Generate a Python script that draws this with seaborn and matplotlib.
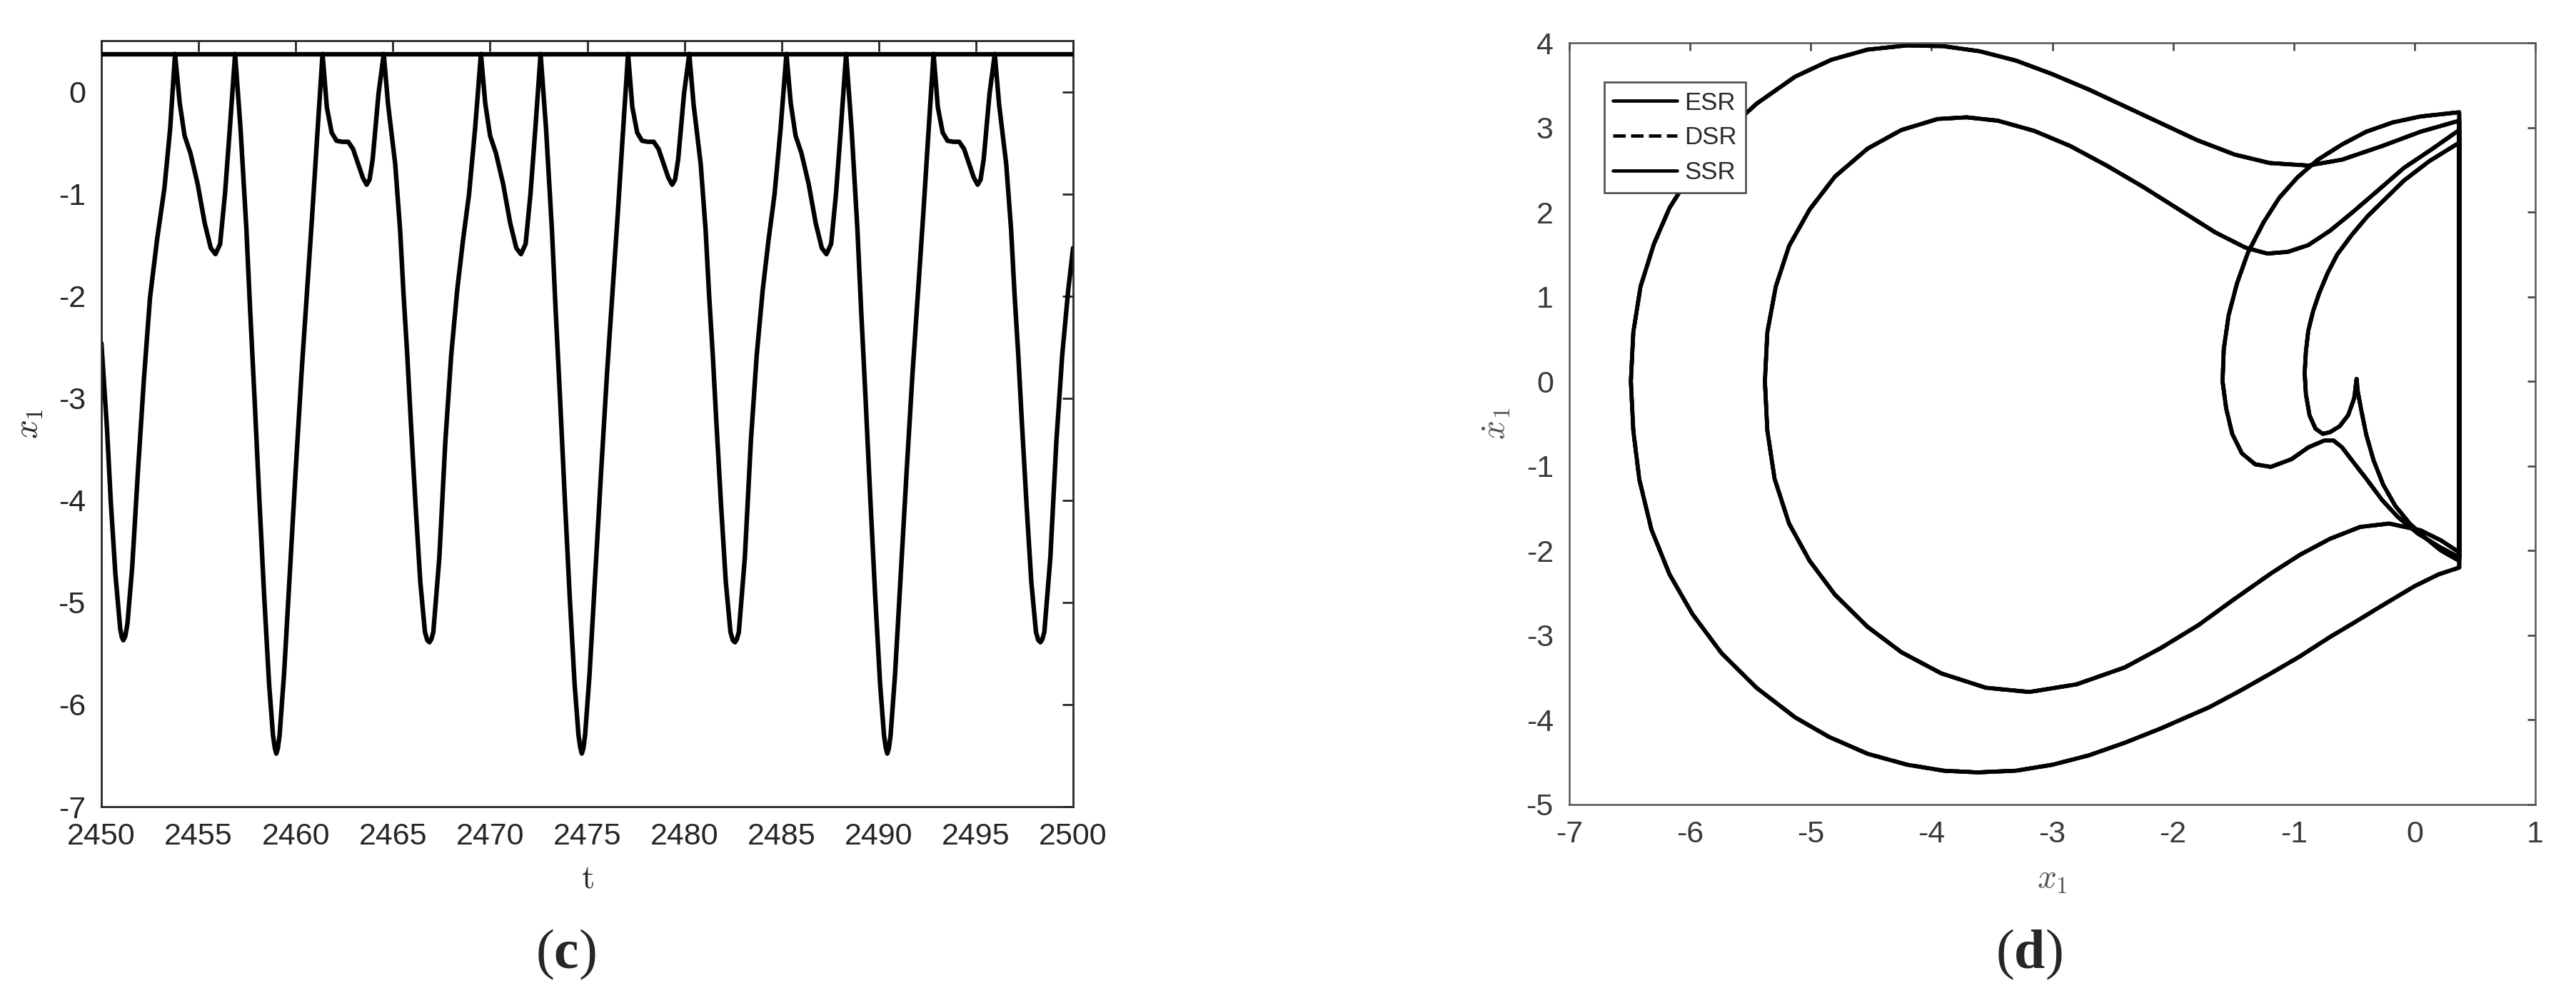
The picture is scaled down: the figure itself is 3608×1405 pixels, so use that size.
import matplotlib
matplotlib.use("Agg")
import matplotlib.pyplot as plt
import seaborn as sns
import pandas as pd

# ---- panel (c): time history of x1 ----
t_vals = [2450.00, 2450.29, 2450.48, 2450.72, 2450.97, 2451.05, 2451.13, 2451.23, 2451.34, 2451.58, 2451.89,
          2452.19, 2452.50, 2452.87, 2453.24, 2453.54, 2453.79,
          # cycle 1
          2454.03, 2454.28, 2454.58, 2454.95, 2455.32, 2455.63, 2455.87, 2456.11, 2456.36, 2456.61, 2456.88,
          2457.16, 2457.46, 2457.65, 2457.88, 2458.13, 2458.38, 2458.63, 2458.83, 2458.92, 2459.00, 2459.08,
          2459.17, 2459.40, 2459.70, 2460.00, 2460.30, 2460.60, 2460.85, 2461.10, 2461.38,
          2461.60, 2461.85, 2462.10, 2462.40, 2462.70, 2462.95, 2463.20, 2463.45, 2463.65, 2463.80, 2463.96,
          2464.26, 2464.53,
          2464.75, 2465.12, 2465.37, 2465.55, 2465.74, 2465.92, 2466.17, 2466.41, 2466.65, 2466.77, 2466.88,
          2466.98, 2467.08, 2467.39, 2467.70, 2468.00, 2468.31, 2468.61, 2468.92, 2469.23, 2469.53,
          # cycle 2
          2469.75, 2470.00, 2470.30, 2470.67, 2471.04, 2471.35, 2471.59, 2471.83, 2472.08, 2472.33, 2472.60,
          2472.88, 2473.18, 2473.37, 2473.60, 2473.85, 2474.10, 2474.35, 2474.55, 2474.64, 2474.72, 2474.80,
          2474.89, 2475.12, 2475.42, 2475.72, 2476.02, 2476.32, 2476.57, 2476.82, 2477.10,
          2477.32, 2477.57, 2477.82, 2478.12, 2478.42, 2478.67, 2478.92, 2479.17, 2479.37, 2479.52, 2479.68,
          2479.98, 2480.25,
          2480.47, 2480.84, 2481.09, 2481.27, 2481.46, 2481.64, 2481.89, 2482.13, 2482.37, 2482.49, 2482.60,
          2482.70, 2482.80, 2483.11, 2483.42, 2483.72, 2484.03, 2484.33, 2484.64, 2484.95, 2485.25,
          # cycle 3
          2485.47, 2485.72, 2486.02, 2486.39, 2486.76, 2487.07, 2487.31, 2487.55, 2487.80, 2488.05, 2488.32,
          2488.60, 2488.90, 2489.09, 2489.32, 2489.57, 2489.82, 2490.07, 2490.27, 2490.36, 2490.44, 2490.52,
          2490.61, 2490.84, 2491.14, 2491.44, 2491.74, 2492.04, 2492.29, 2492.54, 2492.82,
          2493.04, 2493.29, 2493.54, 2493.84, 2494.14, 2494.39, 2494.64, 2494.89, 2495.09, 2495.24, 2495.40,
          2495.70, 2495.97,
          2496.19, 2496.56, 2496.81, 2496.99, 2497.18, 2497.36, 2497.61, 2497.85, 2498.09, 2498.21, 2498.32,
          2498.42, 2498.52, 2498.83, 2499.14, 2499.44, 2499.75, 2500.00]

x1_vals = [-2.46, -3.30, -4.00, -4.72, -5.26, -5.34, -5.37, -5.33, -5.21, -4.67, -3.69,
           -2.81, -2.02, -1.44, -0.95, -0.36, 0.37,
           # cycle 1
           -0.11, -0.43, -0.60, -0.90, -1.29, -1.53, -1.59, -1.49, -1.00, -0.36, 0.37,
           -0.36, -1.34, -2.12, -3.00, -4.00, -4.95, -5.80, -6.30, -6.42, -6.48, -6.43,
           -6.30, -5.70, -4.70, -3.70, -2.75, -1.90, -1.20, -0.45, 0.37,
           -0.15, -0.40, -0.48, -0.49, -0.49, -0.56, -0.70, -0.84, -0.91, -0.86, -0.66,
           -0.02, 0.37,
           -0.12, -0.71, -1.35, -1.99, -2.58, -3.22, -4.06, -4.80, -5.29, -5.37, -5.39,
           -5.36, -5.29, -4.56, -3.42, -2.58, -1.94, -1.45, -1.00, -0.36, 0.37,
           # cycle 2
           -0.11, -0.43, -0.60, -0.90, -1.29, -1.53, -1.59, -1.49, -1.00, -0.36, 0.37,
           -0.36, -1.34, -2.12, -3.00, -4.00, -4.95, -5.80, -6.30, -6.42, -6.48, -6.43,
           -6.30, -5.70, -4.70, -3.70, -2.75, -1.90, -1.20, -0.45, 0.37,
           -0.15, -0.40, -0.48, -0.49, -0.49, -0.56, -0.70, -0.84, -0.91, -0.86, -0.66,
           -0.02, 0.37,
           -0.12, -0.71, -1.35, -1.99, -2.58, -3.22, -4.06, -4.80, -5.29, -5.37, -5.39,
           -5.36, -5.29, -4.56, -3.42, -2.58, -1.94, -1.45, -1.00, -0.36, 0.37,
           # cycle 3
           -0.11, -0.43, -0.60, -0.90, -1.29, -1.53, -1.59, -1.49, -1.00, -0.36, 0.37,
           -0.36, -1.34, -2.12, -3.00, -4.00, -4.95, -5.80, -6.30, -6.42, -6.48, -6.43,
           -6.30, -5.70, -4.70, -3.70, -2.75, -1.90, -1.20, -0.45, 0.37,
           -0.15, -0.40, -0.48, -0.49, -0.49, -0.56, -0.70, -0.84, -0.91, -0.86, -0.66,
           -0.02, 0.37,
           -0.12, -0.71, -1.35, -1.99, -2.58, -3.22, -4.06, -4.80, -5.29, -5.37, -5.39,
           -5.36, -5.29, -4.56, -3.42, -2.58, -1.94, -1.53]

barrier = 0.37
t_ticks = [2450, 2455, 2460, 2465, 2470, 2475, 2480, 2485, 2490, 2495, 2500]
x1_ticks = [-7, -6, -5, -4, -3, -2, -1, 0]

# ---- panel (d): phase portrait, one closed orbit (impacts at x1 = barrier) ----
# small loop reaching x1 = -1.59
loop_dip_x = [0.37, 0.20, 0.03, -0.14, -0.27, -0.40, -0.52, -0.60, -0.67, -0.75, -0.88, -1.02, -1.19,
              -1.32, -1.43, -1.51, -1.56, -1.59, -1.58, -1.54, -1.47, -1.38, -1.25, -1.12, -0.97,
              -0.80, -0.60, -0.40, -0.18, 0.05, 0.37]
loop_dip_v = [-2.08, -1.95, -1.80, -1.60, -1.40, -1.15, -0.93, -0.78, -0.70, -0.70, -0.78, -0.92, -1.01,
              -0.98, -0.85, -0.62, -0.32, 0.00, 0.38, 0.78, 1.16, 1.52, 1.88, 2.17, 2.41,
              2.62, 2.80, 2.95, 3.06, 3.13, 3.18]
# outer loop reaching x1 = -6.49
loop_out_x = [0.37, 0.20, 0.00, -0.27, -0.50, -0.70, -0.95, -1.19, -1.45, -1.70, -2.10, -2.40, -2.70,
              -3.00, -3.30, -3.62, -3.90, -4.20, -4.53, -4.85, -5.13, -5.45, -5.74, -5.98, -6.17,
              -6.32, -6.42, -6.47, -6.49, -6.47, -6.41, -6.30, -6.17, -5.98, -5.74, -5.45, -5.13,
              -4.83, -4.53, -4.20, -3.90, -3.60, -3.30, -3.00, -2.70, -2.40, -2.10, -1.80, -1.49,
              -1.20, -0.88, -0.60, -0.27, 0.05, 0.37]
loop_out_v = [-2.20, -2.28, -2.42, -2.65, -2.85, -3.02, -3.25, -3.45, -3.66, -3.85, -4.10, -4.27, -4.42,
              -4.53, -4.60, -4.62, -4.60, -4.53, -4.40, -4.20, -3.97, -3.62, -3.21, -2.75, -2.28,
              -1.75, -1.16, -0.58, 0.00, 0.58, 1.12, 1.62, 2.05, 2.48, 2.90, 3.28, 3.60,
              3.80, 3.92, 3.97, 3.96, 3.90, 3.79, 3.63, 3.45, 3.25, 3.05, 2.85, 2.68,
              2.58, 2.55, 2.62, 2.78, 2.95, 3.08]
# inner loop with the cusp at x1 = -0.48
loop_in_x = [0.37, 0.22, 0.09, -0.04, -0.16, -0.26, -0.34, -0.40, -0.44, -0.47, -0.48, -0.50, -0.55,
             -0.62, -0.70, -0.76, -0.82, -0.87, -0.90, -0.91, -0.90, -0.88, -0.84, -0.79, -0.72,
             -0.64, -0.52, -0.39, -0.24, -0.09, 0.12, 0.37]
loop_in_v = [-2.12, -2.00, -1.85, -1.68, -1.47, -1.22, -0.93, -0.63, -0.35, -0.12, 0.03, -0.20, -0.40,
             -0.53, -0.60, -0.62, -0.56, -0.40, -0.15, 0.10, 0.35, 0.60, 0.83, 1.04, 1.28,
             1.50, 1.73, 1.95, 2.16, 2.37, 2.60, 2.82]
# middle loop reaching x1 = -5.38
loop_mid_x = [0.37, 0.22, 0.05, -0.21, -0.45, -0.70, -0.95, -1.19, -1.50, -1.79, -2.10, -2.40, -2.80,
              -3.19, -3.55, -3.92, -4.25, -4.53, -4.80, -5.01, -5.18, -5.30, -5.36, -5.38, -5.36,
              -5.29, -5.18, -5.01, -4.80, -4.53, -4.25, -3.95, -3.71, -3.45, -3.15, -2.85, -2.55,
              -2.25, -1.95, -1.65, -1.40, -1.22, -1.05, -0.88, -0.70, -0.52, -0.30, -0.09, 0.15,
              0.37, 0.37]
loop_mid_v = [-2.02, -1.88, -1.76, -1.68, -1.72, -1.86, -2.05, -2.27, -2.58, -2.88, -3.15, -3.38, -3.58,
              -3.67, -3.62, -3.45, -3.20, -2.90, -2.52, -2.12, -1.68, -1.15, -0.58, 0.00, 0.58,
              1.12, 1.60, 2.03, 2.42, 2.75, 2.97, 3.10, 3.12, 3.08, 2.96, 2.78, 2.55,
              2.30, 2.03, 1.76, 1.58, 1.51, 1.53, 1.61, 1.78, 1.99, 2.26, 2.52, 2.75,
              2.97, -2.08]

phase_series = ["ESR", "DSR", "SSR"]
phase_styles = ["-", "--", "-"]
px_ticks = [-7, -6, -5, -4, -3, -2, -1, 0, 1]
py_ticks = [-5, -4, -3, -2, -1, 0, 1, 2, 3, 4]

sns.set_theme(style="white")
plt.rcParams["font.family"] = ["Liberation Sans", "DejaVu Sans"]
plt.rcParams["axes.unicode_minus"] = False
plt.rcParams["mathtext.fontset"] = "custom"
plt.rcParams["mathtext.rm"] = "Liberation Serif"
plt.rcParams["mathtext.bf"] = "Liberation Serif:bold"

W, H = 3608, 1405
fig = plt.figure(figsize=(W / 200, H / 200), dpi=200)
fig.patch.set_facecolor("white")

# left panel
axc = fig.add_axes([142 / W, 1 - 1130 / H, (1503 - 142) / W, (1130 - 57) / H])
tc = "#262626"
axc.axhline(barrier, color="black", lw=2.3, zorder=3)
sns.lineplot(x=t_vals, y=x1_vals, ax=axc, color="black", lw=2.3, sort=False, estimator=None)
axc.set_xlim(2450, 2500)
axc.set_ylim(-7, 0.5)
axc.set_xticks(t_ticks)
axc.set_yticks(x1_ticks)
axc.tick_params(direction="in", top=True, right=True, length=5.5, width=1.0, color=tc,
                labelsize=15.5, labelcolor=tc, pad=8)
for s in axc.spines.values():
    s.set_color(tc)
    s.set_linewidth(1.0)
axc.set_xlabel(r"$\mathrm{t}$", fontsize=17, color=tc, math_fontfamily="cm")
axc.xaxis.set_label_coords(0.5, -0.074)
axc.set_ylabel(r"$x_1$", fontsize=17, color=tc, math_fontfamily="cm")
axc.yaxis.set_label_coords(-0.058, 0.5)

# right panel
axd = fig.add_axes([2198 / W, 1 - 1127 / H, (3551 - 2198) / W, (1127 - 60) / H])
td = "#3a3a3a"
df = pd.DataFrame({
    "x1": loop_dip_x + loop_out_x + loop_in_x + loop_mid_x,
    "x1dot": loop_dip_v + loop_out_v + loop_in_v + loop_mid_v,
})
for name, ls in zip(phase_series, phase_styles):
    sns.lineplot(data=df, x="x1", y="x1dot", ax=axd, color="black", lw=2.0, linestyle=ls,
                 sort=False, estimator=None, label=name)
axd.set_xlim(-7, 1)
axd.set_ylim(-5, 4)
axd.set_xticks(px_ticks)
axd.set_yticks(py_ticks)
axd.tick_params(direction="in", top=True, right=True, length=4, width=0.9, color=td,
                labelsize=15.5, labelcolor=td, pad=8)
for s in axd.spines.values():
    s.set_color("#555555")
    s.set_linewidth(0.9)
axd.set_xlabel(r"$x_1$", fontsize=17, color="#555555", math_fontfamily="cm")
axd.xaxis.set_label_coords(0.5, -0.078)
axd.set_ylabel(r"$\dot{x}_1$", fontsize=17, color="#555555", math_fontfamily="cm")
axd.yaxis.set_label_coords(-0.059, 0.5)
leg = axd.legend(loc="upper left", bbox_to_anchor=(0.036, 0.948), fontsize=12.5, frameon=True,
                 fancybox=False, framealpha=1, edgecolor="#444444", handlelength=2.6,
                 handletextpad=0.3, labelspacing=0.45, borderpad=0.35, borderaxespad=0)
leg.get_frame().set_linewidth(0.9)
for line in leg.get_lines():
    line.set_linewidth(1.7)
for txt in leg.get_texts():
    txt.set_color("#2a2a2a")

fig.text(792 / W, 1 - 1337 / H, r"($\mathbf{c}$)", ha="center", va="center", fontsize=28,
         family="Liberation Serif")
fig.text(2842 / W, 1 - 1337 / H, r"($\mathbf{d}$)", ha="center", va="center", fontsize=28,
         family="Liberation Serif")

fig.savefig("out.png", dpi=200, facecolor="white")
